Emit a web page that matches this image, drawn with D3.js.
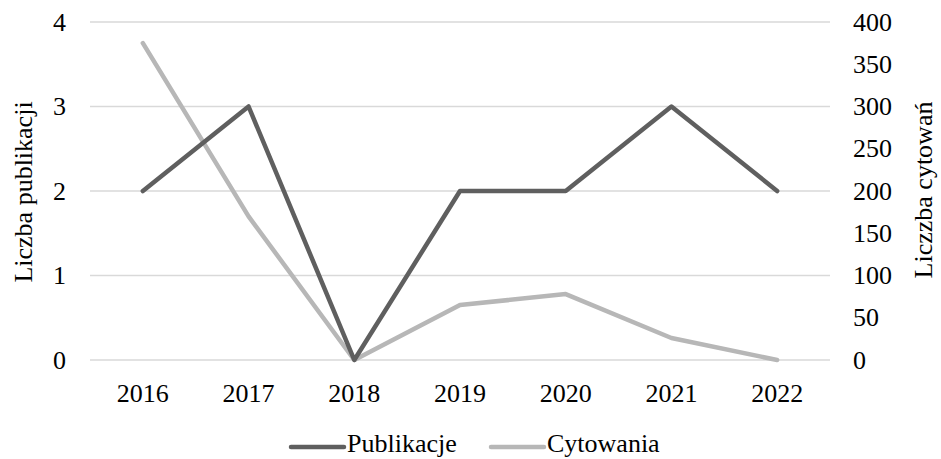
<!DOCTYPE html>
<html>
<head>
<meta charset="utf-8">
<script src="https://cdn.jsdelivr.net/npm/d3@7"></script>
<style>
  body { margin: 0; background: #fff; }
  svg text { font-family: 'Liberation Serif', 'Times New Roman', Times, 'DejaVu Serif', serif; fill: #000; }
</style>
</head>
<body>
<svg id="chart" width="941" height="459" font-family="Liberation Serif, Times New Roman, serif"></svg>
<script>
/* data */
const years       = ['2016','2017','2018','2019','2020','2021','2022'];
const publikacje  = [2, 3, 0, 2, 2, 3, 2];
const cytowania   = [375, 170, 0, 65, 78, 26, 0];
const leftTicks   = [0, 1, 2, 3, 4];
const rightTicks  = [0, 50, 100, 150, 200, 250, 300, 350, 400];

const svg = d3.select('#chart');
const L = 90, R = 830, T = 22, B = 360;
const FS = '26px';

const x  = d3.scaleBand().domain(years).range([L, R]);
const yL = d3.scaleLinear().domain([0, 4]).range([B, T]);
const yR = d3.scaleLinear().domain([0, 400]).range([B, T]);

/* grid */
svg.append('g').selectAll('line').data(leftTicks).join('line')
  .attr('x1', L).attr('x2', R)
  .attr('y1', d => yL(d)).attr('y2', d => yL(d))
  .attr('stroke', '#d9d9d9').attr('stroke-width', 1.3);

/* left axis labels */
svg.append('g').selectAll('text').data(leftTicks).join('text')
  .attr('x', 66).attr('y', d => yL(d)).attr('dy', '0.33em')
  .attr('text-anchor', 'end').style('font-size', FS)
  .text(d => d);

/* right axis labels */
svg.append('g').selectAll('text').data(rightTicks).join('text')
  .attr('x', 853).attr('y', d => yR(d)).attr('dy', '0.33em')
  .attr('text-anchor', 'start').style('font-size', FS)
  .text(d => d);

/* x labels */
svg.append('g').selectAll('text').data(years).join('text')
  .attr('x', d => x(d) + x.bandwidth() / 2).attr('y', 402)
  .attr('text-anchor', 'middle').style('font-size', FS)
  .text(d => d);

/* axis titles */
svg.append('text')
  .attr('transform', `translate(32,192) rotate(-90)`)
  .attr('text-anchor', 'middle').style('font-size', FS)
  .text('Liczba publikacji');
svg.append('text')
  .attr('transform', `translate(932,190) rotate(-90)`)
  .attr('text-anchor', 'middle').style('font-size', FS)
  .text('Liczzba cytowań');

/* lines */
const cx = (d, i) => x(years[i]) + x.bandwidth() / 2;
const lineP = d3.line().x(cx).y(d => yL(d));
const lineC = d3.line().x(cx).y(d => yR(d));

svg.append('path').datum(cytowania)
  .attr('d', lineC).attr('fill', 'none')
  .attr('stroke', '#b7b7b7').attr('stroke-width', 4.5)
  .attr('stroke-linecap', 'round').attr('stroke-linejoin', 'round');

svg.append('path').datum(publikacje)
  .attr('d', lineP).attr('fill', 'none')
  .attr('stroke', '#5f5f5f').attr('stroke-width', 4.5)
  .attr('stroke-linecap', 'round').attr('stroke-linejoin', 'round');

/* legend */
const legend = [
  {name: 'Publikacje', color: '#5f5f5f', x: 291},
  {name: 'Cytowania',  color: '#b7b7b7', x: 491}
];
const lg = svg.append('g').selectAll('g').data(legend).join('g')
  .attr('transform', d => `translate(${d.x},447)`);
lg.append('line')
  .attr('x1', 0).attr('x2', 53).attr('y1', 0).attr('y2', 0)
  .attr('stroke', d => d.color).attr('stroke-width', 4.5)
  .attr('stroke-linecap', 'round');
lg.append('text')
  .attr('x', 56).attr('y', 5)
  .style('font-size', FS)
  .text(d => d.name);
</script>
</body>
</html>
